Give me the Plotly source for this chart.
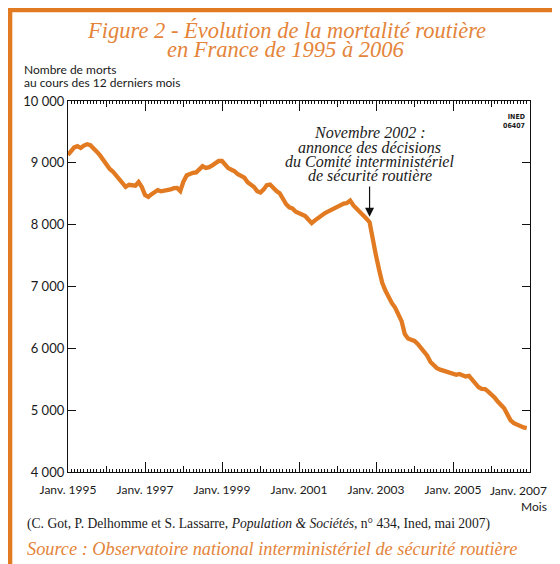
import pandas as pd
import plotly.graph_objects as go

# ---- data ----
start_month = "1995-01-01"
deaths = [
    9128, 9200, 9250, 9270, 9240, 9280, 9300, 9285, 9240, 9180, 9120, 9040,
    8960, 8900, 8860, 8790, 8730, 8660, 8610, 8645, 8640, 8630, 8690, 8610,
    8480, 8450, 8490, 8530, 8560, 8540, 8545, 8560, 8570, 8590, 8595, 8545,
    8700, 8800, 8825, 8838, 8845, 8900, 8945, 8918, 8930, 8960, 8995, 9030,
    9030, 8975, 8915, 8888, 8862, 8815, 8780, 8760, 8685, 8650, 8610, 8540,
    8520, 8570, 8640, 8650, 8590, 8545, 8510, 8420, 8330, 8280, 8260, 8210,
    8190, 8170, 8140, 8080, 8025, 8070, 8110, 8150, 8185, 8210, 8240, 8260,
    8290, 8310, 8340, 8350, 8390, 8310, 8260, 8220, 8160, 8100, 8040, 7730,
    7500, 7260, 7060, 6930, 6820, 6730, 6660, 6560, 6440, 6230, 6160, 6140,
    6120, 6070, 6010, 5950, 5880, 5780, 5725, 5680, 5655, 5640, 5630, 5612,
    5590, 5572, 5585, 5565, 5545, 5555, 5500, 5430, 5370, 5345, 5340, 5300,
    5255, 5200, 5140, 5095, 5030, 4930, 4835, 4790, 4760, 4737, 4720, 4710,
]
labelled_years = [1995, 1997, 1999, 2001, 2003, 2005, 2007]
other_years = [1996, 1998, 2000, 2002, 2004, 2006]
x_ticktext = ["Janv. %d" % y for y in labelled_years]
y_tickvals = [4000, 5000, 6000, 7000, 8000, 9000, 10000]
y_ticktext = ["4 000", "5 000", "6 000", "7 000", "8 000", "9 000", "10 000"]
event_index = 94  # novembre 2002

dates = pd.date_range(start_month, periods=len(deaths), freq="MS")

ORANGE = "#E17A21"
TITLE_ORANGE = "#E4843A"
SANS = "Lato, 'Noto Sans', sans-serif"
SERIF = "'Liberation Serif', 'DejaVu Serif', serif"

# the page body keeps its 8px default margin: the figure is laid out so that
# the visible window (560x564) matches the reference
OFF = 8
W, H = 560, 564
ML, MT = 68 - OFF, 101 - OFF
PW, PH = 462, 371
MR, MB = W - ML - PW, H - MT - PH


def px(x):
    return (x - OFF - ML) / PW


def py(y):
    return (MT + PH - (y - OFF)) / PH


fig = go.Figure()
fig.add_trace(go.Scatter(
    x=dates, y=deaths, mode="lines",
    line=dict(color=ORANGE, width=4.3),
    showlegend=False, hoverinfo="skip",
))
fig.add_trace(go.Scatter(x=[], y=[], xaxis="x2", yaxis="y", showlegend=False))

x_range = ["%d-01-01" % labelled_years[0], "%d-01-01" % labelled_years[-1]]

# the last label is drawn at the right edge, pulled inside the frame as in the source
axis_ticktext = x_ticktext[:-1] + [""]

fig.update_layout(
    width=W, height=H,
    margin=dict(l=ML, r=MR, t=MT, b=MB),
    paper_bgcolor="white", plot_bgcolor="white",
    xaxis=dict(
        type="date", range=x_range,
        tickvals=["%d-01-01" % y for y in labelled_years], ticktext=axis_ticktext,
        ticks="inside", ticklen=10, tickwidth=1, tickcolor="#111",
        showline=True, linecolor="#111", linewidth=1.3, mirror="ticks",
        showgrid=False, zeroline=False,
        tickfont=dict(family=SANS, size=12, color="#1a1a1a"),
        ticklabelstandoff=6,
        minor=dict(ticks="inside", ticklen=3, tickwidth=0.8, tickcolor="#111",
                   dtick="M1", tick0=start_month, showgrid=False),
    ),
    xaxis2=dict(
        type="date", range=x_range, overlaying="x", anchor="y", side="bottom",
        tickvals=["%d-01-01" % y for y in other_years],
        ticks="inside", ticklen=6, tickwidth=1, tickcolor="#111",
        showticklabels=False, mirror="ticks", showline=False,
        showgrid=False, zeroline=False,
    ),
    yaxis=dict(
        range=[4000, 10000], tickvals=y_tickvals, ticktext=y_ticktext,
        ticks="inside", ticklen=8, tickwidth=1, tickcolor="#111",
        showline=True, linecolor="#111", linewidth=1.3, mirror="ticks",
        showgrid=False, zeroline=False,
        tickfont=dict(family=SANS, size=13, color="#1a1a1a"),
    ),
)

ann = []
# last x label
ann.append(dict(text=x_ticktext[-1], x=px(549), y=py(491),
                font=dict(family=SANS, size=12, color="#1a1a1a"),
                xanchor="right", yanchor="middle"))
# title
ann.append(dict(text="<i>Figure 2 - Évolution de la mortalité routière</i>",
                x=px(286), y=py(30), font=dict(family=SERIF, size=22.5, color=TITLE_ORANGE),
                xanchor="center", yanchor="middle"))
ann.append(dict(text="<i>en France de 1995 à 2006</i>",
                x=px(286), y=py(50), font=dict(family=SERIF, size=22.5, color=TITLE_ORANGE),
                xanchor="center", yanchor="middle"))
# y-axis title
ann.append(dict(text="Nombre de morts", x=px(22), y=py(69),
                font=dict(family=SANS, size=12, color="#1a1a1a"),
                xanchor="left", yanchor="middle"))
ann.append(dict(text="au cours des 12 derniers mois", x=px(22), y=py(82),
                font=dict(family=SANS, size=12, color="#1a1a1a"),
                xanchor="left", yanchor="middle"))
# x-axis title
ann.append(dict(text="Mois", x=px(549), y=py(506),
                font=dict(family=SANS, size=12, color="#1a1a1a"),
                xanchor="right", yanchor="middle"))
# INED code
ann.append(dict(text="<b>INED</b><br><b>06407</b>", x=px(527), y=py(121),
                font=dict(family="'Liberation Sans Narrow', 'DejaVu Sans Condensed', sans-serif",
                          size=7, color="#1a1a1a"),
                xanchor="right", yanchor="middle", align="right"))
# event note
note_lines = ["Novembre 2002 :", "annonce des décisions",
              "du Comité interministériel", "de sécurité routière"]
for i, line in enumerate(note_lines):
    ann.append(dict(text="<i>%s</i>" % line, xref="x", x=dates[event_index],
                    y=py(133 + i * 14), font=dict(family=SERIF, size=16, color="#1a1a1a"),
                    xanchor="center", yanchor="middle"))
# footnotes
ann.append(dict(text="(C. Got, P. Delhomme et S. Lassarre, <i>Population &amp; Sociétés</i>, n° 434, Ined, mai 2007)",
                x=px(25), y=py(524), font=dict(family=SERIF, size=13.6, color="#1a1a1a"),
                xanchor="left", yanchor="middle"))
ann.append(dict(text="<i>Source : Observatoire national interministériel de sécurité routière</i>",
                x=px(25), y=py(549), font=dict(family=SERIF, size=18.3, color=TITLE_ORANGE),
                xanchor="left", yanchor="middle"))
for a in ann:
    a.setdefault("xref", "paper")
    a.setdefault("yref", "paper")
    a["showarrow"] = False

# arrow
ann.append(dict(x=dates[event_index], y=deaths[event_index] + 90, xref="x", yref="y",
                ax=dates[event_index], ay=deaths[event_index] + 600, axref="x", ayref="y",
                text="", showarrow=True, arrowhead=2, arrowsize=1.5, arrowwidth=1.2,
                arrowcolor="#111"))
fig.update_layout(annotations=ann)

# orange frame
fig.add_shape(type="rect", xref="paper", yref="paper",
              x0=px(9.5), x1=px(559.8), y0=py(9.5), y1=py(580),
              line=dict(color=ORANGE, width=5.6), fillcolor="rgba(0,0,0,0)", layer="above")

fig.write_html("out.html", config={"displayModeBar": False})
